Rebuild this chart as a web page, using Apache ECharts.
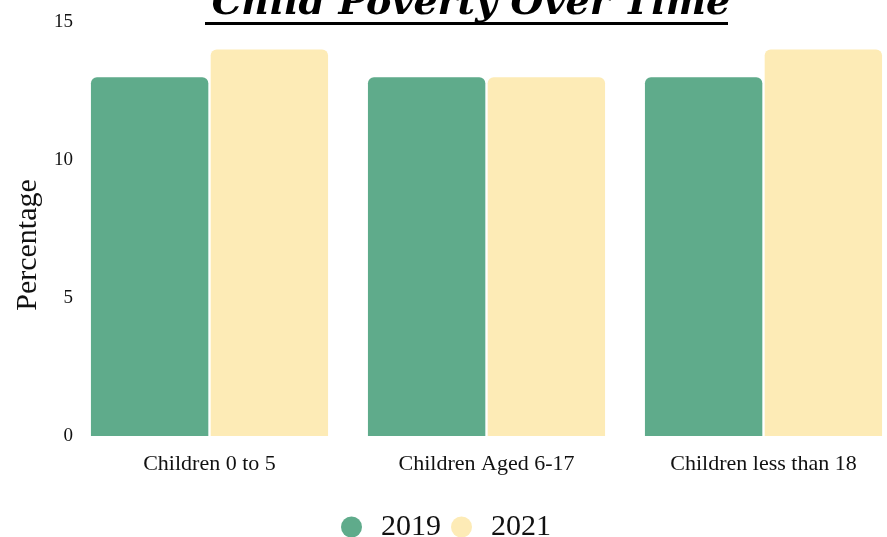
<!DOCTYPE html>
<html>
<head>
<meta charset="utf-8">
<script src="https://cdn.jsdelivr.net/npm/echarts@6/dist/echarts.min.js"></script>
<style>
  html, body { margin: 0; padding: 0; background: #fff; overflow: hidden; }
  #chart { width: 902px; height: 537px; }
</style>
</head>
<body>
<div id="chart"></div>
<script>
let categories = ['Children 0 to 5', 'Children Aged 6-17', 'Children less than 18'];
let years = ['2019', '2021'];
let values2019 = [13, 13, 13];
let values2021 = [14, 13, 14];
let yTicks = [0, 5, 10, 15];

let serif = "'Liberation Serif', 'DejaVu Serif', serif";

// the plot runs a little past the right edge of the window, as in the original
let myChart = echarts.init(document.getElementById('chart'));

let option = {
	backgroundColor: '#ffffff',
	color: ['#5fab8b', '#fdebb6'],
	title: {
		text: 'Child Poverty Over Time',
		left: 466,
		textAlign: 'center',
		top: -20,
		textStyle: {
			fontFamily: "'DejaVu Serif', serif",
			fontStyle: 'italic',
			fontWeight: 'bold',
			fontSize: 38,
			color: '#000'
		}
	},
	graphic: [
		{
			type: 'rect',
			shape: { x: 205, y: 22, width: 523, height: 3 },
			style: { fill: '#000' }
		}
	],
	legend: {
		data: years,
		left: 336,
		top: 507,
		icon: 'circle',
		itemWidth: 21,
		itemHeight: 21,
		itemGap: 10,
		textStyle: {
			fontFamily: serif,
			fontSize: 30,
			color: '#111',
			padding: [0, 0, 0, 14]
		}
	},
	grid: {
		left: 71,
		right: 0,
		top: 22,
		bottom: 101,
		containLabel: false
	},
	xAxis: {
		type: 'category',
		data: categories,
		axisLine: { show: false },
		axisTick: { show: false },
		axisLabel: {
			fontFamily: serif,
			fontSize: 22,
			color: '#111',
			margin: 17
		}
	},
	yAxis: {
		type: 'value',
		min: yTicks[0],
		max: yTicks[yTicks.length - 1],
		interval: 5,
		name: 'Percentage',
		nameLocation: 'middle',
		nameGap: 28,
		nameRotate: 90,
		nameTextStyle: {
			fontFamily: serif,
			fontSize: 30,
			color: '#111',
			padding: [0, 32, 0, 0]
		},
		axisLine: { show: false },
		axisTick: { show: false },
		splitLine: { show: false },
		axisLabel: {
			fontFamily: serif,
			fontSize: 19,
			color: '#111',
			margin: -2
		}
	},
	series: [
		{
			name: years[0],
			type: 'bar',
			data: values2019,
			barGap: '2%',
			barCategoryGap: '14.4%',
			itemStyle: { borderRadius: [6, 6, 0, 0] }
		},
		{
			name: years[1],
			type: 'bar',
			data: values2021,
			itemStyle: { borderRadius: [6, 6, 0, 0] }
		}
	]
};

myChart.setOption(option);
</script>
</body>
</html>
